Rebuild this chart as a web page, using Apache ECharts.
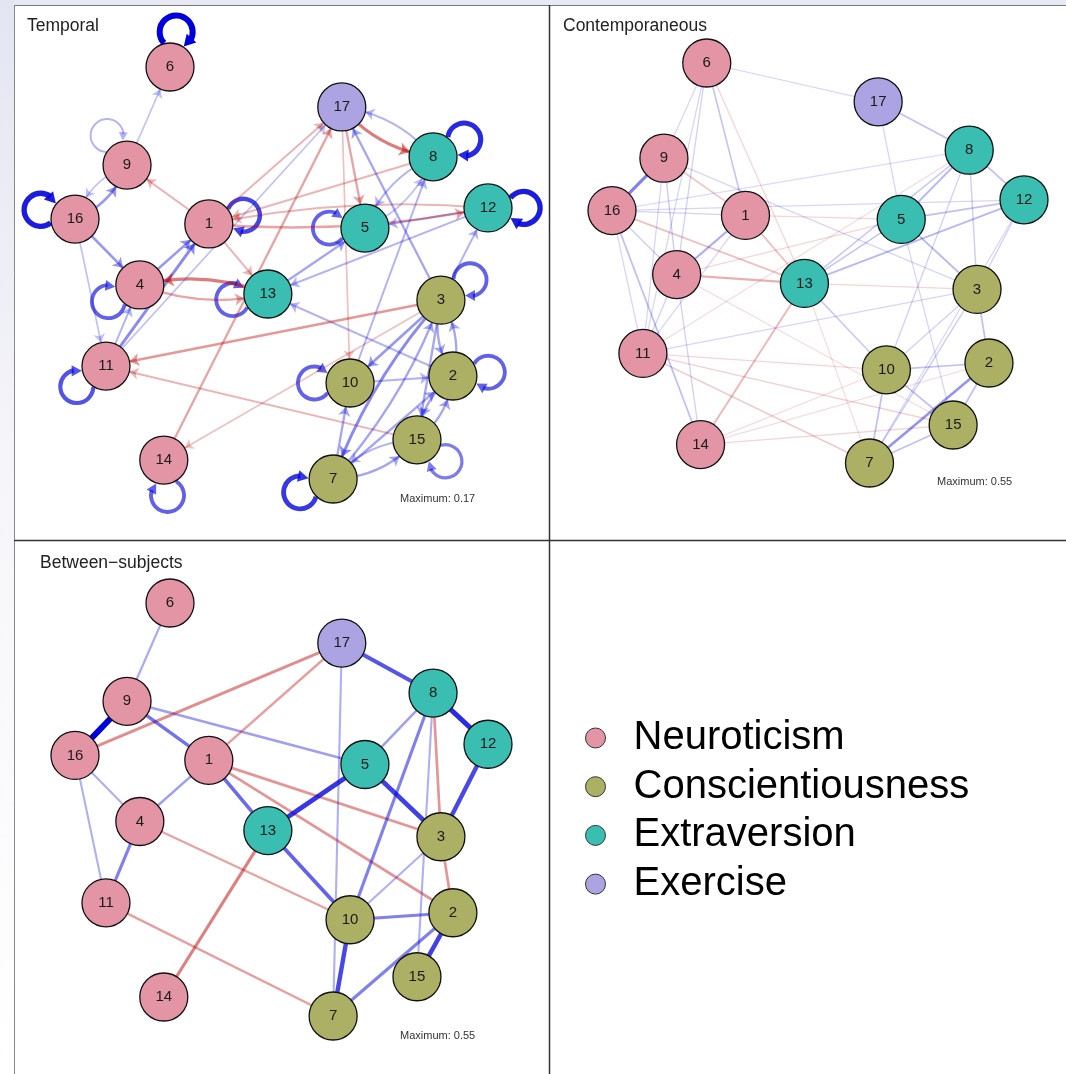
<!DOCTYPE html>
<html>
<head>
<meta charset="utf-8">
<title>Temporal, contemporaneous and between-subjects networks</title>
<script src="https://cdn.jsdelivr.net/npm/echarts@6/dist/echarts.min.js"></script>
<style>
  html, body { margin: 0; padding: 0; background: #ffffff; }
  #chart { width: 1066px; height: 1074px; }
</style>
</head>
<body>
<div id="chart"></div>
<script>
// ---- Data -----------------------------------------------------------------
const nodeNames = ['1','2','3','4','5','6','7','8','9','10','11','12','13','14','15','16','17'];
const groupNames = ['Neuroticism', 'Conscientiousness', 'Extraversion', 'Exercise'];
// group index of each node (same order as nodeNames)
const nodeGroup = [0, 1, 1, 0, 2, 0, 1, 2, 0, 1, 0, 2, 2, 0, 1, 0, 3];
// shared network layout (unit square, y up)
const layoutX = [0.324, 0.915, 0.886, 0.157, 0.702, 0.230, 0.625, 0.867, 0.126, 0.666, 0.075, 1.000, 0.467, 0.215, 0.828, 0.000, 0.646];
const layoutY = [0.619, 0.250, 0.434, 0.471, 0.609, 1.000, 0.000, 0.782, 0.762, 0.233, 0.274, 0.658, 0.449, 0.046, 0.095, 0.631, 0.903];

// temporal (lag-1) network: directed edges [from, to, weight]
const temporalEdges = [
  [9, 6, 0.03], [9, 16, 0.03], [16, 9, 0.06], [1, 9, -0.04], [16, 4, 0.06], [16, 11, 0.03],
  [4, 1, 0.06], [11, 4, 0.04], [11, 1, 0.07], [11, 17, 0.03], [1, 17, -0.04], [14, 17, -0.05],
  [13, 4, -0.08], [4, 13, -0.05], [1, 13, -0.04], [8, 1, -0.04], [12, 1, -0.04], [1, 12, -0.05],
  [17, 8, -0.08], [8, 17, 0.04], [17, 5, -0.05], [17, 10, -0.03], [3, 17, 0.05], [8, 5, 0.04],
  [5, 8, 0.03], [12, 5, 0.04], [13, 5, 0.05], [12, 13, 0.04], [10, 8, 0.04], [3, 12, 0.04],
  [3, 11, -0.06], [15, 11, -0.04], [3, 14, -0.03], [2, 13, 0.04], [3, 10, 0.06], [3, 2, 0.05],
  [2, 3, 0.05], [3, 15, 0.05], [3, 7, 0.07], [7, 3, 0.05], [10, 2, 0.04], [7, 2, 0.05],
  [7, 10, 0.05], [7, 15, 0.05], [15, 7, 0.04], [15, 2, 0.05], [2, 15, 0.05]
];
// temporal auto-regressive effects [node, weight]
const temporalLoops = [
  [6, 0.17], [16, 0.15], [12, 0.15], [8, 0.14], [1, 0.12], [7, 0.13], [4, 0.10], [13, 0.10],
  [5, 0.10], [3, 0.10], [11, 0.11], [14, 0.10], [10, 0.10], [2, 0.10], [15, 0.08], [9, 0.04]
];
// contemporaneous network: undirected edges [a, b, weight]
const contempEdges = [
  [6, 17, 0.05], [6, 9, 0.05], [6, 4, 0.06], [6, 11, 0.05], [6, 1, 0.09], [6, 13, -0.05],
  [9, 16, 0.25], [9, 1, -0.09], [9, 4, 0.07], [9, 11, 0.05], [9, 3, 0.05],
  [16, 1, 0.06], [16, 12, 0.05], [16, 8, 0.04], [16, 13, -0.10], [16, 4, 0.07], [16, 11, 0.05], [16, 14, 0.10],
  [1, 4, 0.14], [1, 13, -0.10], [1, 11, 0.05], [1, 5, -0.05],
  [4, 13, -0.14], [4, 11, 0.06], [4, 14, 0.06], [4, 5, -0.05], [4, 15, -0.04],
  [13, 5, 0.09], [13, 8, 0.08], [13, 12, 0.12], [13, 3, -0.05], [13, 10, 0.08], [13, 14, -0.12], [13, 7, -0.04],
  [11, 3, 0.05], [11, 8, -0.04], [11, 10, -0.05], [11, 15, -0.06], [11, 7, -0.08],
  [14, 2, -0.04], [14, 10, -0.04], [14, 15, -0.05],
  [17, 8, 0.10], [17, 5, 0.05],
  [8, 5, 0.12], [8, 12, 0.10], [8, 3, 0.07], [8, 10, 0.06],
  [12, 5, 0.10], [12, 3, 0.06], [12, 7, 0.05],
  [5, 3, 0.12], [5, 15, 0.05],
  [3, 2, 0.10], [3, 10, 0.06], [3, 7, 0.07],
  [10, 2, 0.10], [10, 15, 0.10], [10, 7, 0.10],
  [2, 7, 0.20], [2, 15, 0.10], [15, 7, 0.10]
];
// between-subjects network: undirected edges [a, b, weight]
const betweenEdges = [
  [6, 9, 0.15], [9, 16, 0.55], [9, 1, 0.28], [9, 5, 0.18], [16, 17, -0.22], [16, 4, 0.14],
  [16, 11, 0.14], [1, 17, -0.18], [1, 4, 0.18], [1, 13, 0.30], [1, 3, -0.20], [1, 2, -0.20],
  [4, 11, 0.25], [4, 10, -0.17], [13, 5, 0.42], [13, 10, 0.32], [13, 14, -0.25], [11, 7, -0.18],
  [17, 8, 0.35], [17, 7, 0.14], [8, 12, 0.45], [8, 5, 0.18], [8, 10, 0.25], [8, 3, -0.20],
  [8, 15, 0.14], [5, 3, 0.40], [12, 3, 0.38], [3, 2, -0.20], [3, 10, 0.14], [10, 2, 0.25],
  [10, 7, 0.38], [2, 15, 0.40], [2, 7, 0.25]
];
const temporalMax = 0.17;
const contempMax = 0.55;
const betweenMax = 0.55;

// ---- Style ----------------------------------------------------------------
const groupColors = ['#E495A5', '#ABB065', '#39BEB1', '#ACA4E2'];
const posRGB = [0, 0, 221];
const negRGB = [191, 0, 0];
const NODE_SIZE = 48;
const FONT = '"Liberation Sans", Arial, Helvetica, sans-serif';
// direction (degrees, screen space) in which each self-loop is drawn
const loopRotation = {6: -80, 9: -124, 16: -165, 1: -14, 8: -29, 12: 0, 5: 180, 4: 152,
  13: 171, 3: -35, 11: 145, 14: 84, 10: 180, 2: -6, 15: 37, 7: 158};

const grids = [
  { left: 75, top: 67, width: 413, height: 412 },    // Temporal
  { left: 612, top: 63, width: 412, height: 400 },   // Contemporaneous
  { left: 75, top: 603, width: 413, height: 413 }    // Between-subjects
];

function strength(w, max) { return Math.min(1, Math.abs(w) / max); }
function edgeColor(w, max) {
  const a = 0.08 + 0.92 * strength(w, max);
  const c = w > 0 ? posRGB : negRGB;
  return 'rgba(' + c.join(',') + ',' + a.toFixed(3) + ')';
}
function edgeWidth(w, max) { return 0.8 + 5.2 * strength(w, max); }

function nodeData() {
  return nodeNames.map((n, i) => ({ name: n, value: [layoutX[i], layoutY[i]], category: nodeGroup[i] }));
}

// approximate on-screen length of an edge, used to keep the bend of
// reciprocal edges at a similar size whatever their length
function screenLength(s, t, grid) {
  const dx = (layoutX[t - 1] - layoutX[s - 1]) * grid.width;
  const dy = (layoutY[t - 1] - layoutY[s - 1]) * grid.height;
  return Math.sqrt(dx * dx + dy * dy);
}

function graphSeries(edges, max, gridIndex, directed) {
  const present = new Set(edges.map(e => e[0] + '>' + e[1]));
  const links = edges.slice()
    .sort((a, b) => Math.abs(a[2]) - Math.abs(b[2]))
    .map(([s, t, w]) => {
      const mutual = directed && present.has(t + '>' + s);
      const width = edgeWidth(w, max);
      const bend = mutual ? -Math.min(0.22, 20 / screenLength(s, t, grids[gridIndex])) : 0;
      return {
        source: String(s), target: String(t), value: w,
        symbol: directed ? ['none', 'arrow'] : ['none', 'none'],
        symbolSize: directed ? [0, 7 + width] : 0,
        lineStyle: { color: edgeColor(w, max), width: width, curveness: bend, opacity: 1 }
      };
    });
  return {
    type: 'graph',
    layout: 'none',
    coordinateSystem: 'cartesian2d',
    xAxisIndex: gridIndex,
    yAxisIndex: gridIndex,
    symbol: 'circle',
    symbolSize: NODE_SIZE,
    categories: groupNames.map((g, i) => ({ name: g, itemStyle: { color: groupColors[i] } })),
    data: nodeData(),
    links: links,
    itemStyle: { borderColor: '#111', borderWidth: 1.3 },
    label: { show: true, position: 'inside', fontSize: 15, color: '#1a1a1a', fontFamily: FONT },
    lineStyle: { opacity: 1 },
    emphasis: { disabled: true },
    silent: true,
    z: 3
  };
}

// self-loops of the temporal network, drawn as arcs with arrowheads
const loopData = temporalLoops.map(([n, w]) => {
  const i = n - 1;
  return [layoutX[i], layoutY[i], w, loopRotation[n]];
});
function renderLoop(params, api) {
  const c = api.coord([api.value(0), api.value(1)]);
  const w = api.value(2);
  const th = api.value(3) * Math.PI / 180;
  const R = NODE_SIZE / 2 + 0.6;
  const r = 16.5;
  const D = R + 11;
  const cx = c[0] + D * Math.cos(th), cy = c[1] + D * Math.sin(th);
  const beta = Math.acos((r * r + D * D - R * R) / (2 * r * D));
  const start = th + Math.PI + beta;
  const end = th + 3 * Math.PI - beta;
  const width = edgeWidth(w, temporalMax);
  const color = edgeColor(w, temporalMax);
  const aLen = 7 + width * 0.8, hw = 3.5 + width * 0.5;
  const phi = aLen / r;
  const ex = cx + r * Math.cos(end), ey = cy + r * Math.sin(end);
  const bx = cx + r * Math.cos(end - phi), by = cy + r * Math.sin(end - phi);
  let dx = ex - bx, dy = ey - by;
  const len = Math.sqrt(dx * dx + dy * dy) || 1;
  dx /= len; dy /= len;
  const nx = -dy, ny = dx;
  return {
    type: 'group',
    children: [
      { type: 'arc', shape: { cx: cx, cy: cy, r: r, startAngle: start, endAngle: end - phi * 0.8, clockwise: true },
        style: { stroke: color, lineWidth: width, fill: null } },
      { type: 'polygon', shape: { points: [[ex, ey], [bx + hw * nx, by + hw * ny], [bx - hw * nx, by - hw * ny]] },
        style: { fill: color } }
    ]
  };
}

// ---- Chart ----------------------------------------------------------------
const axisBase = { type: 'value', min: 0, max: 1, show: false };
const smallText = { fontSize: 11, fontWeight: 'normal', color: '#333', fontFamily: FONT };

const chart = echarts.init(document.getElementById('chart'), null, { renderer: 'canvas' });
chart.setOption({
  backgroundColor: '#ffffff',
  animation: false,
  grid: grids,
  xAxis: grids.map((g, i) => Object.assign({ gridIndex: i }, axisBase)),
  yAxis: grids.map((g, i) => Object.assign({ gridIndex: i }, axisBase)),
  title: [
    { text: 'Temporal', left: 27, top: 17 },
    { text: 'Contemporaneous', left: 563, top: 17 },
    { text: 'Between\u2212subjects', left: 40, top: 554 },
    { text: 'Maximum: 0.17', left: 400, top: 493, textStyle: smallText },
    { text: 'Maximum: 0.55', left: 937, top: 476, textStyle: smallText },
    { text: 'Maximum: 0.55', left: 400, top: 1030, textStyle: smallText }
  ].map(t => Object.assign({ padding: 0, textStyle: { fontSize: 17.5, fontWeight: 'normal', color: '#222', fontFamily: FONT } }, t)),
  legend: {
    orient: 'vertical',
    left: 585,
    top: 716,
    padding: 0,
    icon: 'circle',
    itemWidth: 20,
    itemHeight: 20,
    itemGap: 4.7,
    selectedMode: false,
    data: groupNames,
    itemStyle: { borderColor: '#333', borderWidth: 1 },
    textStyle: { fontSize: 40, lineHeight: 44, color: '#000', fontFamily: FONT, padding: [0, 0, 0, 23] }
  },
  graphic: [
    { type: 'rect', shape: { x: 0, y: 0, width: 1066, height: 5 }, style: { fill: '#e8e9f3' }, silent: true },
    { type: 'rect', shape: { x: 0, y: 0, width: 14, height: 1074 }, silent: true,
      style: { fill: { type: 'linear', x: 0, y: 0, x2: 0, y2: 1, colorStops: [
        { offset: 0, color: '#e3e5f1' }, { offset: 0.45, color: '#f6f6fa' }, { offset: 1, color: '#ffffff' }] } } },
    { type: 'line', shape: { x1: 14, y1: 5.5, x2: 1066, y2: 5.5 }, style: { stroke: '#777', lineWidth: 1 }, silent: true },
    { type: 'line', shape: { x1: 14.5, y1: 5, x2: 14.5, y2: 1074 }, style: { stroke: '#888', lineWidth: 1 }, silent: true },
    { type: 'line', shape: { x1: 549.5, y1: 5, x2: 549.5, y2: 1074 }, style: { stroke: '#333', lineWidth: 1.5 }, silent: true },
    { type: 'line', shape: { x1: 14, y1: 540.5, x2: 1066, y2: 540.5 }, style: { stroke: '#333', lineWidth: 1.5 }, silent: true }
  ],
  series: [
    {
      type: 'custom',
      coordinateSystem: 'cartesian2d',
      xAxisIndex: 0,
      yAxisIndex: 0,
      data: loopData,
      renderItem: renderLoop,
      silent: true,
      z: 1
    },
    graphSeries(temporalEdges, temporalMax, 0, true),
    graphSeries(contempEdges, contempMax, 1, false),
    graphSeries(betweenEdges, betweenMax, 2, false)
  ]
});
</script>
</body>
</html>
